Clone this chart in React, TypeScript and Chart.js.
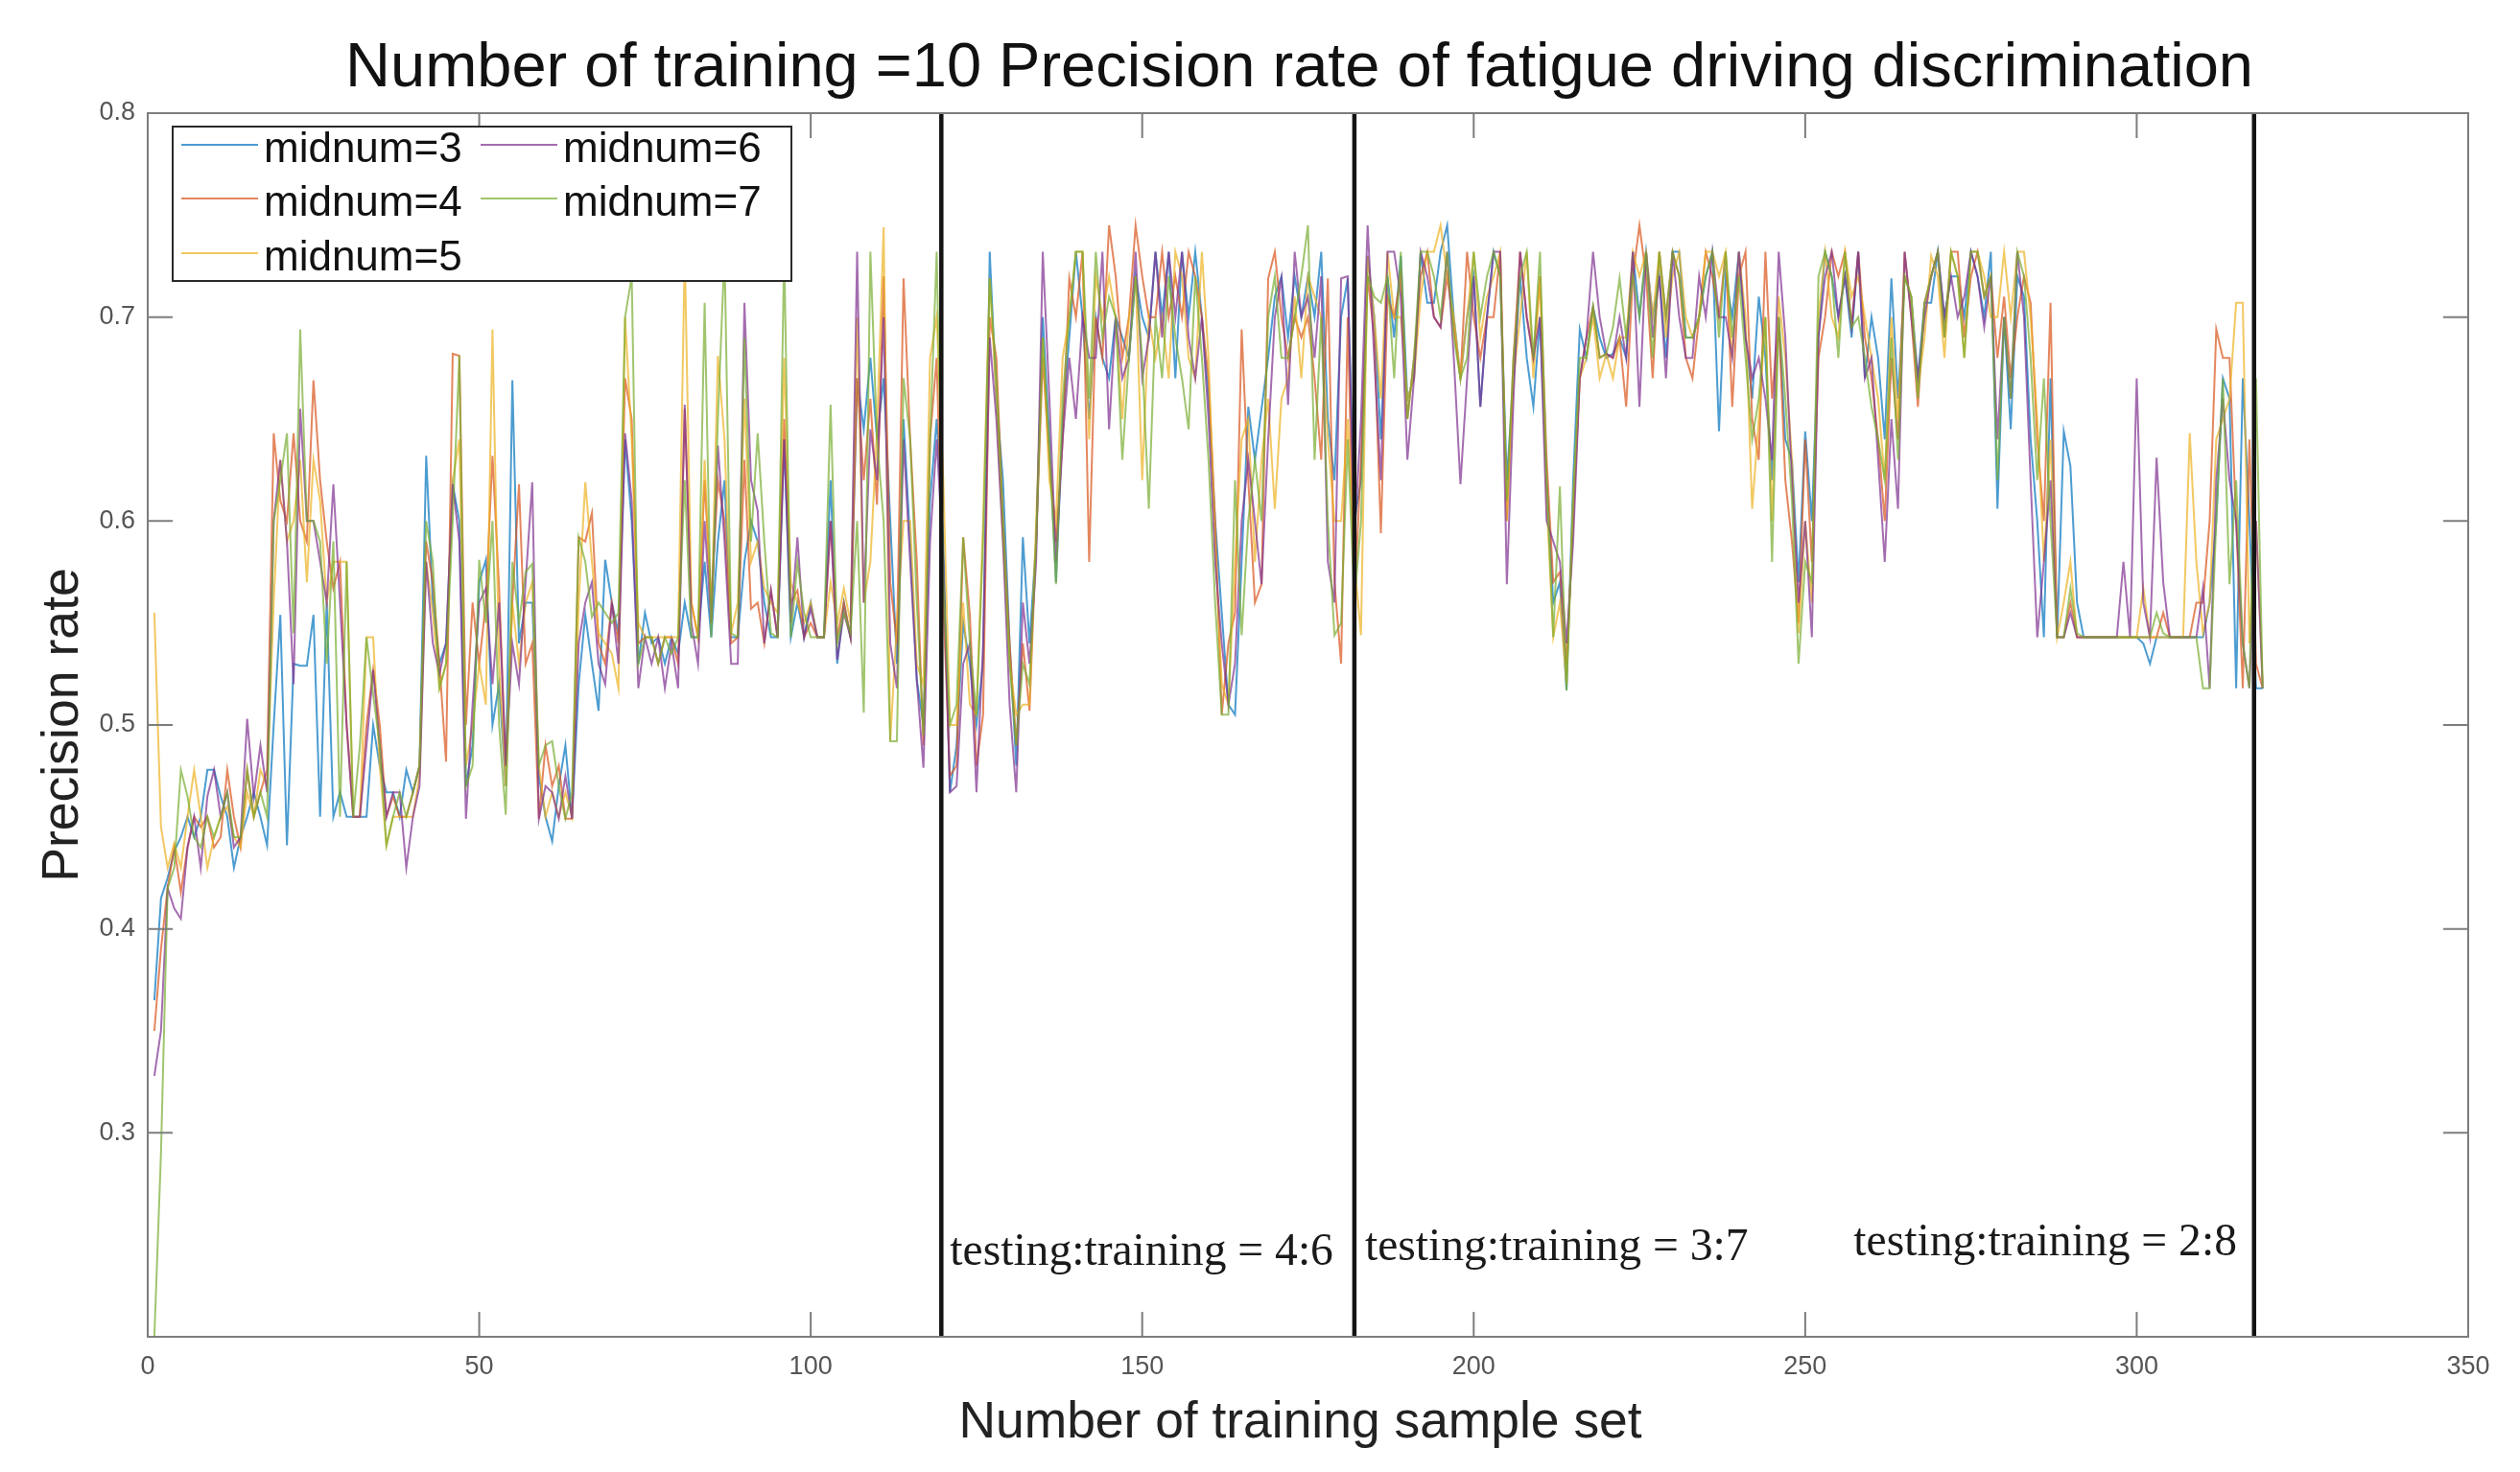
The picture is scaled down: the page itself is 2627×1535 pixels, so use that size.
import React, { useEffect, useRef } from "react";
import { Chart, registerables } from "chart.js";

Chart.register(...registerables);

const chartTitle = "Number of training =10 Precision rate of fatigue driving discrimination";
const xAxisTitle = "Number of training sample set";
const yAxisTitle = "Precision rate";
const seriesNames = ["midnum=3", "midnum=4", "midnum=5", "midnum=6", "midnum=7"];
const seriesColors = ["#0072BD", "#D95319", "#EDB120", "#7E2F8E", "#77AC30"];
const xTicks = [0, 50, 100, 150, 200, 250, 300, 350];
const yTicks = [0.3, 0.4, 0.5, 0.6, 0.7, 0.8];
const splitPositions = [119.7, 182, 317.7];
const splitLabels = ["testing:training = 4:6", "testing:training = 3:7", "testing:training = 2:8"];
const splitLabelX = [121, 183.6, 257.3];
const splitLabelY = [0.2412, 0.2435, 0.2459];

// precision rate in thousandths
const midnum3 = [
365,415,425,438,445,455,445,455,478,478,
465,455,430,445,455,467,455,441,500,554,
441,530,529,529,554,455,560,455,467,455,
455,455,455,500,480,467,467,455,478,467,
480,632,560,530,540,618,600,470,490,570,
581,500,520,470,669,540,560,560,475,455,
443,470,490,454,520,554,530,507,581,560,
545,640,600,530,555,540,543,530,543,535,
560,543,543,580,543,590,620,543,543,580,
600,590,560,543,543,640,543,560,543,560,
543,543,620,530,560,543,670,645,680,640,670,
600,530,650,590,522,500,610,650,590,467,
490,550,530,500,530,732,660,620,540,480,
592,540,590,700,640,570,650,690,732,700,
650,700,680,670,700,690,680,720,700,690,
732,700,732,670,732,700,732,700,660,600,
555,510,505,580,656,630,655,680,710,720,
690,720,700,720,700,732,650,620,700,719,
600,620,730,700,640,720,690,730,660,670,
732,707,707,732,745,700,670,700,720,656,
700,732,720,620,670,720,680,656,700,620,560,
570,517,620,694,680,705,690,680,682,690,
680,732,700,732,700,720,680,732,732,690,
690,700,720,732,644,720,700,732,690,660,
710,680,620,700,640,630,570,644,600,690,
732,720,700,720,690,732,670,700,680,640,
719,660,720,710,670,707,707,732,700,720,
720,700,732,720,700,732,606,700,645,720,
710,640,600,543,670,543,644,627,560,543,
543,543,543,543,543,543,543,543,540,530,
543,543,543,543,543,543,543,543,560,600,
670,660,518,670,600,518,518,
];
const midnum4 = [
350,390,420,440,418,440,455,450,455,440,
445,478,455,440,478,455,467,478,643,610,
600,643,600,590,669,620,590,567,580,500,
455,455,500,527,500,455,465,455,455,467,
480,590,570,530,482,682,681,500,560,530,
560,632,567,480,560,618,530,540,454,490,
470,480,454,454,592,590,604,540,530,560,
540,670,650,540,543,543,530,543,543,530,
655,560,543,620,560,620,600,540,543,630,
557,560,540,566,543,650,560,566,543,550,
543,543,600,543,560,543,670,620,660,608,720,
570,540,719,640,580,490,640,680,560,475,
480,592,554,480,505,700,680,600,540,490,
540,507,590,680,630,590,640,719,700,732,
580,700,680,745,720,680,700,745,720,700,
700,732,700,720,700,732,720,700,670,600,
505,540,555,694,620,560,569,719,732,700,
680,700,690,700,670,630,719,570,530,700,
560,630,720,690,594,710,700,720,650,680,
720,732,700,695,720,695,670,732,700,680,
700,700,732,600,680,732,700,680,720,630,570,
575,530,600,670,690,705,680,682,680,690,
656,720,745,720,670,732,700,732,720,680,
670,700,732,720,700,732,656,720,732,650,
630,732,660,700,620,590,550,640,580,680,
700,732,720,732,695,732,690,670,640,600,
680,640,732,700,656,707,720,732,690,732,
732,690,720,732,710,720,680,710,670,700,
720,707,640,600,707,543,543,560,543,543,
543,543,543,543,543,543,543,543,543,543,
543,555,543,543,543,543,560,560,600,694,
680,680,600,518,640,530,518,
];
const midnum5 = [
555,450,430,442,430,455,478,455,430,445,
455,460,445,440,467,455,478,470,560,630,
590,600,630,570,630,610,560,580,580,580,
455,455,543,543,480,441,455,455,455,455,
475,580,555,518,530,620,640,480,500,530,
510,694,530,470,560,530,560,570,480,455,
467,455,467,455,560,619,580,545,540,535,
518,700,640,550,543,543,543,543,543,543,
732,560,543,630,550,681,640,545,560,660,
580,590,567,560,555,680,570,560,550,560,
543,543,570,550,567,550,700,560,580,645,744,
492,550,600,600,530,520,680,700,620,500,
500,560,510,505,600,719,660,590,530,505,
510,510,600,690,620,600,680,700,732,732,
640,720,700,720,700,650,700,720,620,700,
680,700,670,732,720,680,670,732,680,590,
520,510,580,640,650,580,630,660,606,660,
670,710,670,720,710,700,640,600,600,650,
580,544,730,700,660,732,700,700,660,670,
710,732,732,745,720,700,670,700,732,690,
710,720,732,600,670,700,732,670,720,610,543,
560,520,610,670,680,700,670,682,670,690,
690,732,720,732,700,732,690,720,732,700,
690,700,732,732,720,732,680,732,700,606,
650,700,600,710,680,630,545,600,560,700,
732,700,690,732,710,720,700,680,660,620,
700,650,720,710,665,690,730,720,680,732,
720,680,732,732,720,700,700,732,700,732,
732,700,650,580,640,543,560,580,543,543,
543,543,543,543,543,543,543,543,567,543,
543,543,543,543,543,643,580,545,560,640,
650,660,707,707,540,600,520,
];
const midnum6 = [
328,350,420,410,405,440,455,430,465,478,
455,467,440,445,503,465,490,467,600,630,
590,520,655,600,600,580,560,618,560,500,
455,455,490,527,490,455,467,467,430,455,
470,580,540,525,540,618,590,454,510,560,
567,520,560,480,540,520,570,619,454,470,
467,454,475,454,540,560,570,530,520,560,
530,643,610,518,543,530,543,518,540,518,
657,550,530,600,550,637,590,530,530,707,
620,605,540,566,543,640,550,592,543,557,
543,543,600,532,555,543,732,560,645,620,700,
540,518,640,580,522,479,590,640,580,467,
470,530,540,467,540,690,650,590,510,467,
560,530,580,732,660,580,640,680,650,700,
680,680,732,645,700,670,680,732,670,690,
732,690,732,700,732,690,670,700,650,580,
540,510,530,600,630,600,569,640,700,719,
657,732,700,710,680,720,580,560,719,720,
590,650,745,680,620,732,732,710,630,670,
732,720,700,695,732,680,618,670,720,656,
700,732,732,569,660,732,700,680,700,600,590,
580,540,590,670,690,732,700,682,680,700,
680,732,656,732,690,720,670,732,700,680,
680,720,700,732,700,700,680,732,690,670,
680,660,630,732,690,620,560,600,543,690,
720,732,700,720,695,732,670,680,630,580,
650,606,732,700,670,700,720,732,700,720,
700,710,732,720,695,720,640,700,660,732,
700,620,543,580,620,543,543,555,543,543,
543,543,543,543,543,580,543,670,560,543,
631,570,543,543,543,543,543,567,518,620,
660,620,600,540,518,600,518,
];
const midnum7 = [
200,290,420,430,478,465,445,440,455,445,
455,467,445,445,478,455,467,455,600,620,
643,545,694,600,600,590,530,590,455,580,
455,490,543,515,490,441,455,467,455,467,
480,600,580,518,530,600,681,470,480,581,
550,600,500,456,580,550,575,579,480,490,
492,470,454,467,592,580,553,560,555,550,
555,700,720,530,543,543,530,543,535,543,
620,543,543,707,543,650,732,545,543,690,
590,643,590,545,543,732,543,580,555,543,
543,543,657,540,555,545,600,506,732,640,600,
492,492,670,640,560,495,640,732,570,500,
510,592,540,505,590,719,670,600,530,490,
530,520,590,690,635,569,660,700,732,732,
660,732,690,710,700,630,680,720,680,606,
700,670,720,690,670,645,720,680,630,560,
505,505,620,544,600,630,600,700,720,680,
680,700,720,745,630,700,600,544,550,640,
560,600,720,710,707,720,670,732,650,680,
732,732,720,700,732,690,670,680,732,700,
720,732,720,610,680,720,732,680,732,620,543,
617,517,610,680,680,705,680,682,695,719,
690,720,700,732,680,732,700,732,720,690,
690,700,720,732,690,732,690,720,680,640,
660,700,580,700,660,610,530,580,570,720,
732,720,680,732,695,700,680,656,640,620,
690,630,720,710,660,707,720,732,690,732,
720,680,732,732,710,720,620,700,660,732,
720,680,620,670,600,543,543,567,545,543,
543,543,543,543,543,543,543,543,543,543,
555,545,543,543,543,543,543,518,518,600,
670,569,620,540,518,670,518,
];
const allSeries = [midnum3, midnum4, midnum5, midnum6, midnum7];

const axisGrey = "#7d7d7d";
const sans = "'Liberation Sans', Arial, sans-serif";

const alpha = (hex: string, a: number) => {
  const n = parseInt(hex.slice(1), 16);
  return `rgba(${(n >> 16) & 255},${(n >> 8) & 255},${n & 255},${a})`;
};

const framePlugin = {
  id: "frame",
  afterLayout(chart: any) {
    // the reference's title and x-axis title sit a little left of the plot centre
    if (chart.titleBlock) chart.titleBlock.right -= 18;
    const sx = chart.scales.x;
    if (sx && !sx.__shifted) {
      sx.__shifted = true;
      const original = sx.drawTitle;
      sx.drawTitle = function () {
        chart.ctx.save();
        chart.ctx.translate(-8, 0);
        original.call(sx);
        chart.ctx.restore();
      };
    }
  },
  afterDatasetsDraw(chart: any) {
    const { ctx, chartArea: a, scales } = chart;
    const tick = 26;
    ctx.save();
    ctx.strokeStyle = axisGrey;
    ctx.lineWidth = 2;
    ctx.strokeRect(a.left, a.top, a.right - a.left, a.bottom - a.top);
    ctx.beginPath();
    xTicks.forEach((v) => {
      const x = scales.x.getPixelForValue(v);
      ctx.moveTo(x, a.bottom);
      ctx.lineTo(x, a.bottom - tick);
      ctx.moveTo(x, a.top);
      ctx.lineTo(x, a.top + tick);
    });
    yTicks.forEach((v) => {
      const y = scales.y.getPixelForValue(v);
      ctx.moveTo(a.left, y);
      ctx.lineTo(a.left + tick, y);
      ctx.moveTo(a.right, y);
      ctx.lineTo(a.right - tick, y);
    });
    ctx.stroke();

    ctx.fillStyle = "#1a1a1a";
    ctx.font = "47.6px 'Liberation Serif', 'Times New Roman', serif";
    ctx.textBaseline = "middle";
    ctx.textAlign = "left";
    splitLabels.forEach((t, i) => {
      ctx.fillText(t, scales.x.getPixelForValue(splitLabelX[i]), scales.y.getPixelForValue(splitLabelY[i]));
    });
    ctx.restore();
  },
};

const legendPlugin = {
  id: "boxLegend",
  afterDraw(chart: any) {
    const { ctx } = chart;
    const box = { x: 180, y: 132, w: 645, h: 161 };
    const rows = [0, 56, 113];
    const cols = [189, 501];
    ctx.save();
    ctx.fillStyle = "#ffffff";
    ctx.fillRect(box.x, box.y, box.w, box.h);
    ctx.strokeStyle = "#2a2a2a";
    ctx.lineWidth = 2;
    ctx.strokeRect(box.x, box.y, box.w, box.h);
    ctx.font = `44px ${sans}`;
    ctx.textBaseline = "middle";
    ctx.textAlign = "left";
    seriesNames.forEach((name, i) => {
      const col = i < 3 ? 0 : 1;
      const row = i < 3 ? i : i - 3;
      const yLine = 151 + rows[row];
      ctx.strokeStyle = alpha(seriesColors[i], 0.7);
      ctx.lineWidth = 2;
      ctx.beginPath();
      ctx.moveTo(cols[col], yLine);
      ctx.lineTo(cols[col] + 80, yLine);
      ctx.stroke();
      ctx.fillStyle = "#111111";
      ctx.fillText(name, cols[col] + 86, yLine + 6);
    });
    ctx.restore();
  },
};

export default function App() {
  const ref = useRef<HTMLCanvasElement | null>(null);

  useEffect(() => {
    if (!ref.current) return;
    const lineSets = allSeries.map((values, i) => ({
      label: seriesNames[i],
      data: values.map((v, k) => ({ x: k + 1, y: v / 1000 })),
      borderColor: alpha(seriesColors[i], 0.7),
      borderWidth: 2,
      pointRadius: 0,
      tension: 0,
      order: 4 - i,
    }));
    const splitSets = splitPositions.map((x) => ({
      label: "",
      data: [
        { x, y: 0.2 },
        { x, y: 0.8 },
      ],
      borderColor: "#141414",
      borderWidth: 4.5,
      pointRadius: 0,
      order: -1,
    }));
    const chart = new Chart(ref.current, {
      type: "line",
      data: { datasets: [...lineSets, ...splitSets] as any },
      plugins: [framePlugin, legendPlugin],
      options: {
        animation: false,
        responsive: false,
        devicePixelRatio: 1,
        parsing: false,
        normalized: true,
        layout: { padding: { left: 0, right: 54, top: 0, bottom: 0 } },
        plugins: {
          legend: { display: false },
          tooltip: { enabled: false },
          title: {
            display: true,
            text: chartTitle,
            fullSize: false,
            color: "#111111",
            font: { family: sans, size: 65, weight: "normal", lineHeight: 1.2 },
            padding: { top: 33, bottom: 7 },
          },
        },
        scales: {
          x: {
            type: "linear",
            min: 0,
            max: 350,
            afterFit: (s: any) => {
              s.height = 141;
            },
            afterBuildTicks: (s: any) => {
              s.ticks = xTicks.map((value) => ({ value }));
            },
            grid: { display: false },
            border: { display: false },
            ticks: {
              autoSkip: false,
              maxRotation: 0,
              padding: 7,
              color: "#555555",
              font: { family: sans, size: 27 },
            },
            title: {
              display: true,
              text: xAxisTitle,
              color: "#222222",
              font: { family: sans, size: 53.4, weight: "normal", lineHeight: 1.2 },
              padding: { top: 0, bottom: 19 },
            },
          },
          y: {
            type: "linear",
            min: 0.2,
            max: 0.8,
            afterFit: (s: any) => {
              s.width = 154;
            },
            afterBuildTicks: (s: any) => {
              s.ticks = yTicks.map((value) => ({ value }));
            },
            grid: { display: false },
            border: { display: false },
            ticks: {
              autoSkip: false,
              padding: 5,
              color: "#555555",
              font: { family: sans, size: 27 },
              callback: (v: any) => Number(v).toFixed(1),
            },
            title: {
              display: true,
              text: yAxisTitle,
              color: "#222222",
              font: { family: sans, size: 53.6, weight: "normal", lineHeight: 1.2 },
              padding: { top: 34, bottom: 0 },
            },
          },
        },
      },
    } as any);
    return () => chart.destroy();
  }, []);

  return (
    <div style={{ position: "absolute", left: 0, top: 0, width: 2627, height: 1535, background: "#ffffff" }}>
      <canvas ref={ref} width={2627} height={1535} style={{ display: "block", width: 2627, height: 1535, filter: "blur(0.7px)" }} />
    </div>
  );
}
